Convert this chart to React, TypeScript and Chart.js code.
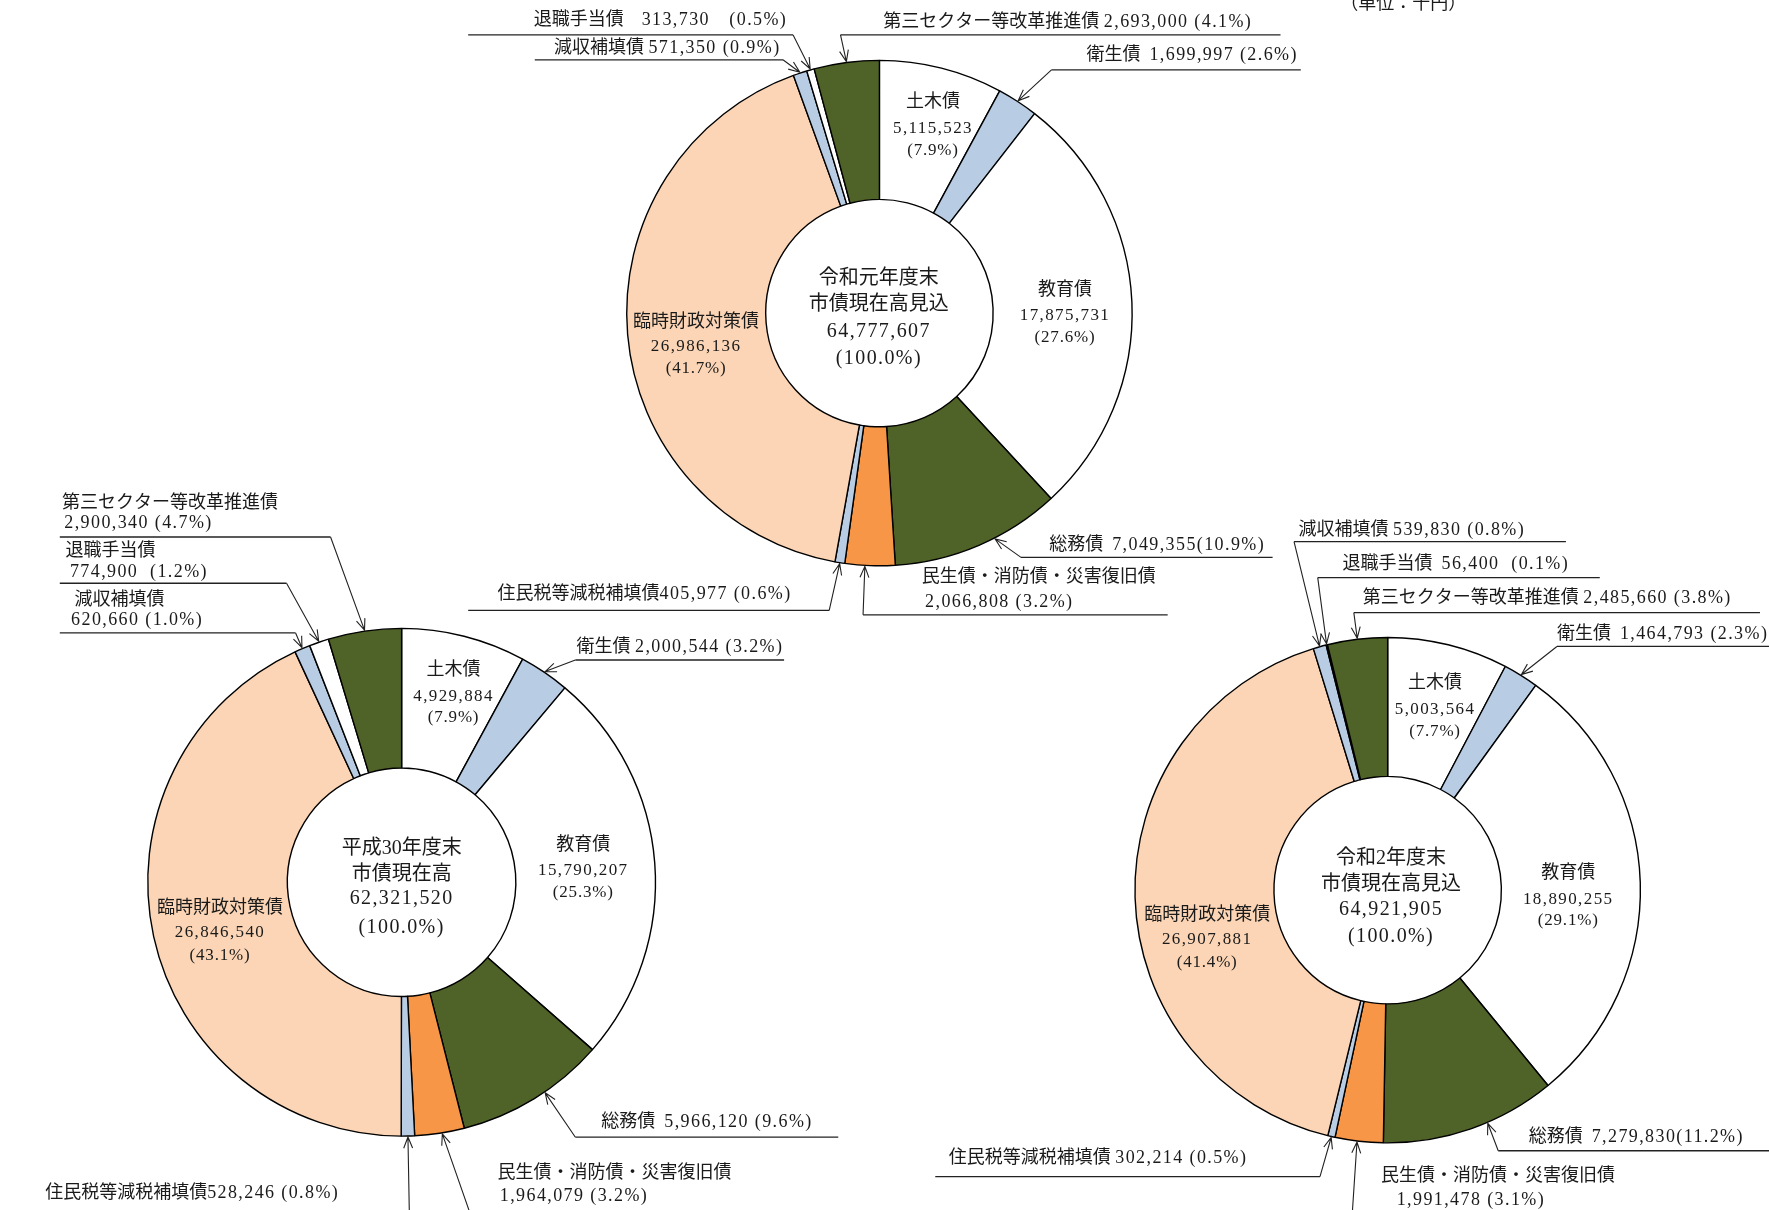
import { useEffect, useRef } from 'react';
import { Chart, registerables } from 'chart.js';

Chart.register(...registerables);

// ---------------- data ----------------
const categories = [
  '土木債',
  '衛生債',
  '教育債',
  '総務債',
  '民生債・消防債・災害復旧債',
  '住民税等減税補填債',
  '臨時財政対策債',
  '減収補填債',
  '退職手当債',
  '第三セクター等改革推進債',
];
const h30Values = [4929884, 2000544, 15790207, 5966120, 1964079, 528246, 26846540, 620660, 774900, 2900340];
const h30Pct = [7.9, 3.2, 25.3, 9.6, 3.2, 0.8, 43.1, 1.0, 1.2, 4.7];
const r1Values = [5115523, 1699997, 17875731, 7049355, 2066808, 405977, 26986136, 571350, 313730, 2693000];
const r1Pct = [7.9, 2.6, 27.6, 10.9, 3.2, 0.6, 41.7, 0.9, 0.5, 4.1];
const r2Values = [5003564, 1464793, 18890255, 7279830, 1991478, 302214, 26907881, 539830, 56400, 2485660];
const r2Pct = [7.7, 2.3, 29.1, 11.2, 3.1, 0.5, 41.4, 0.8, 0.1, 3.8];
const h30Title = ['平成30年度末', '市債現在高'];
const r1Title = ['令和元年度末', '市債現在高見込'];
const r2Title = ['令和2年度末', '市債現在高見込'];
const totalPctLabel = '(100.0%)';
const unitLabel = '（単位：千円）';

// ---------------- styles ----------------
const sliceColors = ['#FFFFFF', '#B8CCE4', '#FFFFFF', '#4F6228', '#F79646', '#B8CCE4', '#FBD5B5', '#B8CCE4', '#FFFFFF', '#4F6228'];
const W = 1769;
const H = 1210;
const K = W / 1568; // layout below is given in reference-scaled units
const FONT = '"Liberation Serif", "Noto Sans CJK JP", serif';
const TEXT = '#1a1a1a';
const NUM_SPACING = '1.4px';

const fmt = (n: number) => n.toLocaleString('en-US');
const pctText = (p: number) => `(${p.toFixed(1)}%)`;

type Inner = { i: number; cx: number; ys: number[] };
type Out = {
  i: number;
  two?: boolean;
  x: number;
  y: number;
  x2?: number;
  y2?: number;
  g1?: string;
  g2?: string;
  ul?: [number, number, number];
  from: [number, number];
  f?: number;
};
type Layout = {
  cx: number;
  cy: number;
  r: number;
  inner: Inner[];
  center: { cx: number; ys: number[] };
  outs: Out[];
  unit?: boolean;
};

const layoutR1: Layout = {
  cx: 779.5,
  cy: 277.5,
  r: 224,
  inner: [
    { i: 0, cx: 827, ys: [91, 114, 133] },
    { i: 2, cx: 944, ys: [257, 280, 299] },
    { i: 6, cx: 617, ys: [286, 307, 327] },
  ],
  center: { cx: 779, ys: [247, 270, 294, 318] },
  outs: [
    { i: 8, x: 473, y: 18, g1: '　', g2: '　', ul: [415, 703, 31], from: [703, 31] },
    { i: 7, x: 491, y: 43, ul: [474, 694, 53], from: [694, 53] },
    { i: 9, x: 783, y: 20, ul: [745, 1135, 31], from: [745, 31] },
    { i: 1, x: 963, y: 49, g1: '  ', ul: [932, 1153, 62], from: [932, 62] },
    { i: 3, x: 930, y: 483, g1: '  ', g2: '', ul: [905, 1128, 494], from: [905, 494], f: 0.4 },
    { i: 4, two: true, x: 817, y: 512, x2: 820, y2: 534, ul: [765, 1035, 545], from: [765, 545], f: 0.6 },
    { i: 5, x: 441, y: 527, g1: '', ul: [415, 735, 541], from: [735, 541] },
  ],
  unit: true,
};

const layoutH30: Layout = {
  cx: 356,
  cy: 782,
  r: 225,
  inner: [
    { i: 0, cx: 402, ys: [594, 617, 636] },
    { i: 2, cx: 517, ys: [749, 772, 791] },
    { i: 6, cx: 195, ys: [805, 827, 847] },
  ],
  center: { cx: 356, ys: [752, 775, 797, 822] },
  outs: [
    { i: 9, two: true, x: 55, y: 446, x2: 57, y2: 464, ul: [53, 293, 476], from: [293, 476] },
    { i: 8, two: true, x: 58, y: 489, x2: 62, y2: 507, g2: '  ', ul: [53, 254, 517], from: [254, 517] },
    { i: 7, two: true, x: 66, y: 532, x2: 63, y2: 550, ul: [53, 262, 561], from: [262, 561] },
    { i: 1, x: 511, y: 574, ul: [510, 695, 585], from: [510, 585] },
    { i: 3, x: 533, y: 995, g1: '  ', ul: [510, 743, 1008], from: [510, 1008], f: 0.42 },
    { i: 4, two: true, x: 441, y: 1040, x2: 443, y2: 1060, from: [420, 1085], f: 0.45 },
    { i: 5, x: 40, y: 1058, g1: '', from: [363, 1085] },
  ],
};

const layoutR2: Layout = {
  cx: 1230,
  cy: 789,
  r: 224,
  inner: [
    { i: 0, cx: 1272, ys: [606, 629, 648] },
    { i: 2, cx: 1390, ys: [774, 797, 816] },
    { i: 6, cx: 1070, ys: [811, 833, 853] },
  ],
  center: { cx: 1233, ys: [761, 784, 806, 830] },
  outs: [
    { i: 7, x: 1151, y: 470, ul: [1147, 1388, 480], from: [1147, 480] },
    { i: 8, x: 1190, y: 500, g1: '  ', g2: '  ', ul: [1168, 1418, 512], from: [1168, 512] },
    { i: 9, x: 1208, y: 530, ul: [1200, 1560, 543], from: [1200, 543] },
    { i: 1, x: 1380, y: 562, g1: '  ', ul: [1380, 1568, 573], from: [1380, 573] },
    { i: 3, x: 1355, y: 1008, g1: '  ', g2: '', ul: [1328, 1568, 1020], from: [1328, 1020], f: 0.4 },
    { i: 4, two: true, x: 1224, y: 1043, x2: 1238, y2: 1064, from: [1198, 1085], f: 0.54 },
    { i: 5, x: 841, y: 1027, ul: [829, 1170, 1043], from: [1170, 1043] },
  ],
};

// draw a left-aligned run of [text, letterSpacing] parts
function drawRun(ctx: any, parts: [string, string][], x: number, y: number) {
  let cx = x;
  parts.forEach(([t, sp]) => {
    ctx.letterSpacing = sp;
    ctx.fillText(t, cx, y);
    cx += ctx.measureText(t).width;
  });
  ctx.letterSpacing = '0px';
}

function drawCentered(ctx: any, t: string, sp: string, x: number, y: number) {
  ctx.letterSpacing = sp;
  const w = ctx.measureText(t).width;
  ctx.textAlign = 'left';
  ctx.fillText(t, x - w / 2, y);
  ctx.letterSpacing = '0px';
}

function calloutPlugin(layout: Layout, values: number[], pcts: number[], title: string[]) {
  return {
    id: 'callouts',
    afterDatasetsDraw(chart: any) {
      const ctx: any = chart.ctx;
      const meta = chart.getDatasetMeta(0);
      const total = values.reduce((a, b) => a + b, 0);
      ctx.save();
      ctx.fillStyle = TEXT;
      ctx.textBaseline = 'middle';

      // labels inside the ring
      layout.inner.forEach((s) => {
        ctx.font = `18px ${FONT}`;
        drawCentered(ctx, categories[s.i], '0px', s.cx * K, s.ys[0] * K);
        ctx.font = `17px ${FONT}`;
        drawCentered(ctx, fmt(values[s.i]), NUM_SPACING, s.cx * K, s.ys[1] * K);
        drawCentered(ctx, pctText(pcts[s.i]), '0.8px', s.cx * K, s.ys[2] * K);
      });

      // center text
      ctx.font = `20px ${FONT}`;
      const cl = [...title, fmt(total), totalPctLabel];
      cl.forEach((t, k) => drawCentered(ctx, t, k >= title.length ? NUM_SPACING : '0px', layout.center.cx * K, layout.center.ys[k] * K));

      // outside callouts
      ctx.textAlign = 'left';
      ctx.font = `18px ${FONT}`;
      layout.outs.forEach((s) => {
        const g1 = s.g1 ?? ' ';
        const g2 = s.g2 ?? ' ';
        const numPart = `${fmt(values[s.i])}${g2}${pctText(pcts[s.i])}`;
        if (s.two) {
          drawRun(ctx, [[categories[s.i], '0px']], s.x * K, s.y * K);
          drawRun(ctx, [[numPart, NUM_SPACING]], (s.x2 ?? s.x) * K, (s.y2 ?? s.y) * K);
        } else {
          drawRun(ctx, [[categories[s.i] + g1, '0px'], [numPart, NUM_SPACING]], s.x * K, s.y * K);
        }
        const arc = meta.data[s.i].getProps(['x', 'y', 'startAngle', 'endAngle', 'outerRadius'], true);
        const f = s.f ?? 0.5;
        const a = arc.startAngle + (arc.endAngle - arc.startAngle) * f;
        const tx = arc.x + Math.cos(a) * (arc.outerRadius + 1);
        const ty = arc.y + Math.sin(a) * (arc.outerRadius + 1);
        const fx = s.from[0] * K;
        const fy = s.from[1] * K;
        ctx.strokeStyle = '#222';
        ctx.lineWidth = 1.3;
        if (s.ul) {
          ctx.beginPath();
          ctx.moveTo(s.ul[0] * K, s.ul[2] * K);
          ctx.lineTo(s.ul[1] * K, s.ul[2] * K);
          ctx.stroke();
        }
        ctx.lineWidth = 1.1;
        ctx.beginPath();
        ctx.moveTo(fx, fy);
        ctx.lineTo(tx, ty);
        const ang = Math.atan2(ty - fy, tx - fx);
        const L = 12;
        ctx.moveTo(tx - L * Math.cos(ang - 0.38), ty - L * Math.sin(ang - 0.38));
        ctx.lineTo(tx, ty);
        ctx.lineTo(tx - L * Math.cos(ang + 0.38), ty - L * Math.sin(ang + 0.38));
        ctx.stroke();
      });

      if (layout.unit) {
        ctx.font = `18px ${FONT}`;
        ctx.textAlign = 'left';
        ctx.fillText(unitLabel, 1188 * K, 4 * K);
      }
      ctx.restore();
    },
  };
}

function DonutLayer({ layout, values, pcts, title }: { layout: Layout; values: number[]; pcts: number[]; title: string[] }) {
  const ref = useRef<HTMLCanvasElement | null>(null);
  useEffect(() => {
    if (!ref.current) return;
    const cx = layout.cx * K;
    const cy = layout.cy * K;
    const r = layout.r * K;
    const s = Math.floor(Math.min(cx, W - cx, cy, H - cy)) - 1;
    const chart = new Chart(ref.current, {
      type: 'doughnut',
      data: {
        labels: categories,
        datasets: [
          {
            data: values,
            backgroundColor: sliceColors,
            borderColor: '#000000',
            borderWidth: 1.4,
            hoverOffset: 0,
          },
        ],
      },
      options: {
        responsive: false,
        animation: false,
        events: [],
        radius: r,
        cutout: '45%',
        layout: {
          padding: { left: cx - s, right: W - cx - s, top: cy - s, bottom: H - cy - s },
        },
        plugins: {
          legend: { display: false },
          tooltip: { enabled: false },
          title: { display: false },
        },
      } as any,
      plugins: [calloutPlugin(layout, values, pcts, title)],
    });
    return () => chart.destroy();
  }, [layout, values, pcts, title]);
  return (
    <canvas
      ref={ref}
      width={W}
      height={H}
      style={{ position: 'absolute', left: 0, top: 0, width: W, height: H }}
    />
  );
}

export default function App() {
  return (
    <div style={{ position: 'absolute', left: 0, top: 0, width: W, height: H, background: '#ffffff', overflow: 'hidden' }}>
      <DonutLayer layout={layoutR1} values={r1Values} pcts={r1Pct} title={r1Title} />
      <DonutLayer layout={layoutH30} values={h30Values} pcts={h30Pct} title={h30Title} />
      <DonutLayer layout={layoutR2} values={r2Values} pcts={r2Pct} title={r2Title} />
    </div>
  );
}
